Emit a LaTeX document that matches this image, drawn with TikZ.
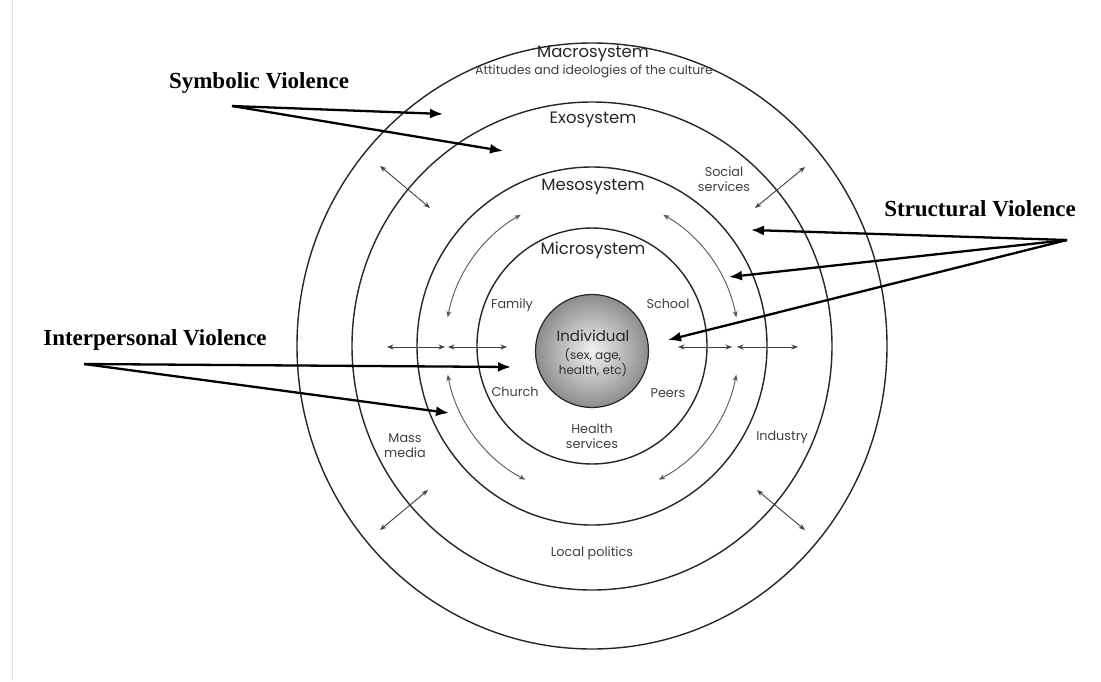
\documentclass[tikz,border=0pt]{standalone}
\usepackage{fontspec}
\setmainfont{Liberation Serif}
\newfontfamily\fut{Poppins}
\usetikzlibrary{arrows.meta,calc}
\begin{document}
\begin{tikzpicture}[x=1pt,y=-1pt,
  ring/.style={draw=black!85, line width=1.4pt},
  sysname/.style={font=\fut\fontsize{16.5}{17}\selectfont, text=black!85, inner sep=0pt},
  small/.style={font=\fut\fontsize{12.8}{15}\selectfont, text=black!75, inner sep=0pt, align=center},
  viol/.style={font=\bfseries\fontsize{23}{24}\selectfont, inner sep=0pt},
  dbl/.style={{Stealth[length=6.5pt,width=5pt]}-{Stealth[length=6.5pt,width=5pt]}, line width=0.9pt, draw=black!75},
  varrow/.style={-{Latex[length=13pt,width=10pt]}, line width=2.3pt, draw=black}
]
\useasboundingbox (0,0) rectangle (1101,681);
\fill[white] (0,0) rectangle (1101,681);
\draw[black!12, line width=0.8pt] (12,0) -- (12,681);

\coordinate (c) at (592,346);
% rings
\draw[ring] (c) ellipse [x radius=295pt, y radius=303pt];
\draw[ring] (c) ellipse [x radius=240pt, y radius=244pt];
\draw[ring] (c) ellipse [x radius=175pt, y radius=179pt];
\draw[ring] (c) ellipse [x radius=115pt, y radius=118pt];

% individual
\node[circle, minimum size=113pt, draw=black!85, line width=1.2pt, inner color=black!5, outer color=black!45] (ind) at (592,351) {};
\node[font=\fut\fontsize{15}{16}\selectfont, text=black!85, inner sep=0pt] (indt) at (593,336) {Individual};
\node[font=\fut\fontsize{12}{13}\selectfont, text=black!80, inner sep=0pt] (indsub1) at (593,356) {(sex, age,};
\node[font=\fut\fontsize{12}{13}\selectfont, text=black!80, inner sep=0pt] (indsub2) at (593,370) {health, etc)};

% system labels
\node[sysname] (macro) at (593,54) {Macrosystem};
\node[font=\fut\fontsize{12.5}{13}\selectfont, text=black!75, inner sep=0pt] (macrosub) at (594,71) {Attitudes and ideologies of the culture};
\node[sysname] (exo) at (593,120) {Exosystem};
\node[sysname] (meso) at (593,187) {Mesosystem};
\node[sysname] (micro) at (593,250) {Microsystem};

% micro labels
\node[small] (family) at (512,305) {Family};
\node[small] (school) at (668,304) {School};
\node[small] (church) at (515,392) {Church};
\node[small] (peers) at (668,393) {Peers};
\node[small] (health) at (592,436) {Health\\services};
\node[small] (social) at (724,179) {Social\\services};
\node[small] (mass) at (405,446) {Mass\\media};
\node[small] (industry) at (782,437) {Industry};
\node[small] (local) at (592,553) {Local politics};

% curved mesosystem arrows
\draw[dbl, draw=black!65] (c) ++(11:147pt and 150pt) arc[start angle=11, end angle=61, x radius=147pt, y radius=150pt];
\draw[dbl, draw=black!65] (c) ++(119:147pt and 150pt) arc[start angle=119, end angle=169, x radius=147pt, y radius=150pt];
\draw[dbl, draw=black!65] (c) ++(191:147pt and 150pt) arc[start angle=191, end angle=243, x radius=147pt, y radius=150pt];
\draw[dbl, draw=black!65] (c) ++(297:147pt and 150pt) arc[start angle=297, end angle=349, x radius=147pt, y radius=150pt];

% horizontal double arrows
\coordinate (hl1) at (387,347); \coordinate (hl2) at (445,347);
\coordinate (hl3) at (448,347); \coordinate (hl4) at (507,347);
\coordinate (hr1) at (678,347); \coordinate (hr2) at (732,347);
\coordinate (hr3) at (737,347); \coordinate (hr4) at (798,347);
\draw[dbl] (hl1) -- (hl2);
\draw[dbl] (hl3) -- (hl4);
\draw[dbl] (hr1) -- (hr2);
\draw[dbl] (hr3) -- (hr4);

% diagonal double arrows
\coordinate (d1a) at (380,166); \coordinate (d1b) at (430,208);
\coordinate (d2a) at (805,167); \coordinate (d2b) at (755,208);
\coordinate (d3a) at (428,490); \coordinate (d3b) at (380,530);
\coordinate (d4a) at (757,490); \coordinate (d4b) at (805,530);
\draw[dbl] (d1a) -- (d1b);
\draw[dbl] (d2a) -- (d2b);
\draw[dbl] (d3a) -- (d3b);
\draw[dbl] (d4a) -- (d4b);

% violence labels
\node[viol] (sym) at (259,83) {Symbolic Violence};
\node[viol] (inter) at (155,340) {Interpersonal Violence};
\node[viol] (struct) at (980,209) {Structural Violence};

\coordinate (s0) at (232,106);
\coordinate (s1) at (443,114);
\coordinate (s2) at (503,151);
\draw[varrow] (s0) -- (s1);
\draw[varrow] (s0) -- (s2);

\coordinate (i0) at (84,364);
\coordinate (i1) at (511,367);
\coordinate (i2) at (449,413);
\draw[varrow] (i0) -- (i1);
\draw[varrow] (i0) -- (i2);

\coordinate (t0) at (1067,240);
\coordinate (t1) at (751,230);
\coordinate (t2) at (729,277);
\coordinate (t3) at (668,340);
\draw[varrow] (t0) -- (t1);
\draw[varrow] (t0) -- (t2);
\draw[varrow] (t0) -- (t3);
\end{tikzpicture}
\end{document}
